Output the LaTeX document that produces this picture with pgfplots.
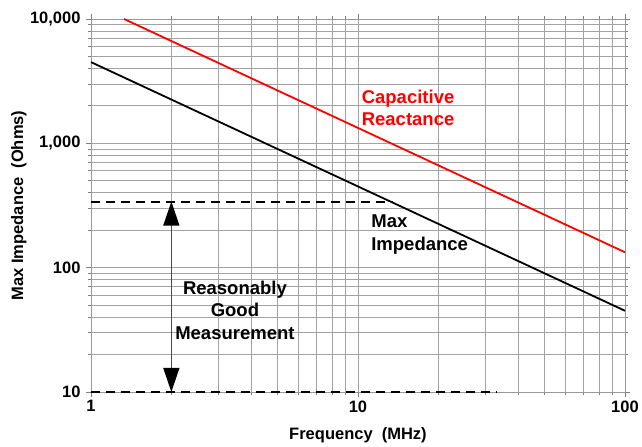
\documentclass[border=0pt]{standalone}
\usepackage{pgfplots}
\pgfplotsset{compat=1.18}
\usepackage{fontspec}
\setmainfont{Liberation Sans}
\usetikzlibrary{arrows.meta}
\begin{document}
\begin{tikzpicture}
\begin{axis}[
 at={(0,0)}, anchor=south west, clip=false,
 scale only axis, width=534bp, height=373bp,
 xmode=log, ymode=log, xmin=1, xmax=100, ymin=10, ymax=10000,
 xtick={1,10,100}, xticklabels={1,10,100},
 ytick={10,100,1000,10000}, yticklabels={10,100,{1,000},{10,000}},
 grid=both,
 major grid style={draw=black!36, line width=0.9bp},
 minor grid style={draw=black!36, line width=0.9bp},
 axis line style={draw=black!40, line width=0.9bp},
 tick style={draw=black!50, line width=0.9bp},
 tick align=outside, major tick length=5bp, minor tick length=3bp,
 ticklabel style={font=\fontsize{16.5bp}{18bp}\selectfont\bfseries},
 yticklabel style={xshift=-2bp},
 label style={font=\fontsize{16.5bp}{19bp}\selectfont\bfseries},
 xlabel={Frequency\ \ (MHz)}, ylabel={Max Impedance\ \ (Ohms)},
 xlabel style={at={(axis description cs:0.5,-0.115)}, anchor=center},
 ylabel style={at={(axis description cs:-0.135,0.5)}, anchor=center},
]
\addplot[black, line width=1.8bp] coordinates {(1,4500) (100,45)};
\addplot[red, line width=1.8bp] coordinates {(1.33,10000) (100,133)};
\addplot[black, line width=1.9bp, dash pattern=on 9bp off 6bp] coordinates {(1,340) (13.5,340)};
\addplot[black, line width=1.9bp, dash pattern=on 9bp off 6bp] coordinates {(1,10) (33,10)};
\addplot[black!70, line width=1.2bp, {Triangle[width=16bp,length=24bp,fill=black,color=black]}-{Triangle[width=16bp,length=24bp,fill=black,color=black]}] coordinates {(2,340) (2,10)};
\node[red, inner sep=0pt, font=\fontsize{18.5bp}{22.5bp}\selectfont\bfseries, align=center] at (axis cs:15.4,1920) {Capacitive\\Reactance};
\node[black, inner sep=0pt, anchor=west, font=\fontsize{18.5bp}{22.5bp}\selectfont\bfseries, align=left] at (axis cs:11.2,185) {Max\\Impedance};
\node[black, inner sep=0pt, font=\fontsize{18.5bp}{22.5bp}\selectfont\bfseries, align=center] at (axis cs:3.46,45.6) {Reasonably\\Good\\Measurement};
\end{axis}
\pgfresetboundingbox
\path[use as bounding box] (-91bp,-55bp) rectangle (551bp,392bp);
\end{tikzpicture}
\end{document}
